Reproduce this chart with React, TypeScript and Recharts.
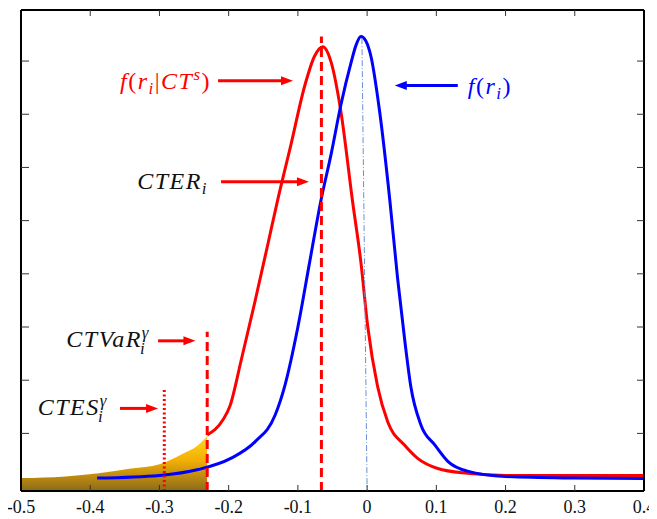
import type { ReactNode } from "react";
import { ComposedChart, Line, Area, XAxis, YAxis, ReferenceLine } from "recharts";

// axis setup
const xTicks = [-0.5, -0.4, -0.3, -0.2, -0.1, 0, 0.1, 0.2, 0.3, 0.4];
const yTicks = [1, 2, 3, 4, 5, 6, 7, 8];
const yMin = -0.083;
const yMax = 8.96;

// unconditional density f(r_i)
const blueR = [-0.39, -0.3, -0.244, -0.197, -0.162, -0.133, -0.119, -0.1, -0.083, -0.067, -0.052, -0.038, -0.023, -0.016, -0.009, -0.002, 0.0055, 0.018, 0.033, 0.044, 0.055, 0.063, 0.078, 0.098, 0.117, 0.145, 0.2, 0.3, 0.4];
const blueDensity = [0.16, 0.21, 0.32, 0.53, 0.84, 1.34, 1.89, 3.0, 4.22, 5.36, 6.25, 7.17, 7.98, 8.3, 8.46, 8.38, 8.09, 7.06, 5.36, 3.92, 2.68, 1.89, 1.15, 0.78, 0.47, 0.29, 0.19, 0.16, 0.15];

// conditional density f(r_i | CT^s)
const redR = [-0.231, -0.208, -0.198, -0.182, -0.162, -0.143, -0.129, -0.11, -0.09, -0.076, -0.064, -0.052, -0.038, -0.021, -0.009, 0.001, 0.015, 0.03, 0.054, 0.073, 0.102, 0.145, 0.2, 0.3, 0.4];
const redDensity = [0.97, 1.26, 1.52, 2.37, 3.48, 4.58, 5.4, 6.43, 7.54, 8.09, 8.27, 7.98, 7.06, 5.36, 4.22, 3.0, 1.89, 1.21, 0.78, 0.53, 0.34, 0.25, 0.21, 0.21, 0.21];

// shaded left tail of the conditional density
const tailR = [-0.5, -0.436, -0.388, -0.341, -0.3, -0.269, -0.244, -0.231];
const tailDensity = [0.16, 0.19, 0.25, 0.34, 0.42, 0.6, 0.78, 0.95];

// risk measures
const cter = -0.066;
const cterTop = 8.46;
const ctvar = -0.231;
const ctvarTop = 2.91;
const ctes = -0.293;
const ctesTop = 1.84;
const modeTop = { r: -0.0075, d: 8.43 };

const toPoints = (xs: number[], ys: number[]) => xs.map((r, i) => ({ r, d: ys[i] }));
const bluePts = toPoints(blueR, blueDensity);
const redPts = toPoints(redR, redDensity);
const tailPts = toPoints(tailR, tailDensity);

const FONT = "'Liberation Serif', 'DejaVu Serif', serif";
const it = { fontStyle: "italic" as const };
const up = { fontStyle: "normal" as const };

const arrowShape = (color: string, label: (x: number, y: number) => ReactNode) => (p: any) => {
  const { x1, y1, x2, y2 } = p;
  const dir = Math.sign(x2 - x1);
  return (
    <g>
      <line x1={x1} y1={y1} x2={x2 - dir * 8} y2={y2} stroke={color} strokeWidth={3} />
      <polygon points={`${x2},${y2} ${x2 - dir * 12},${y2 - 4.5} ${x2 - dir * 12},${y2 + 4.5}`} fill={color} />
      {label(x1, y1)}
    </g>
  );
};

const lblCond = (x: number, y: number) => (
  <text x={x - 7} y={y + 8} textAnchor="end" fill="#ff0000" fontFamily={FONT} fontSize={24} letterSpacing={1.5}>
    <tspan {...it}>f</tspan><tspan {...up}>(</tspan><tspan {...it}>r</tspan>
    <tspan {...it} fontSize={17} dy={5}>i</tspan>
    <tspan {...up} dy={-5}>|</tspan><tspan {...it}>CT</tspan>
    <tspan {...it} fontSize={17} dy={-9}>s</tspan>
    <tspan {...up} dy={9}>)</tspan>
  </text>
);

const lblUncond = (x: number, y: number) => (
  <text x={x + 10} y={y + 8} textAnchor="start" fill="#0000ff" fontFamily={FONT} fontSize={24} letterSpacing={1.5}>
    <tspan {...it}>f</tspan><tspan {...up}>(</tspan><tspan {...it}>r</tspan>
    <tspan {...it} fontSize={17} dy={5}>i</tspan>
    <tspan {...up} dy={-5}>)</tspan>
  </text>
);

const lblCter = (x: number, y: number) => (
  <text x={x - 13} y={y + 7} textAnchor="end" fill="#111" fontFamily={FONT} fontSize={24} letterSpacing={1.5}>
    <tspan {...it}>CTER</tspan>
    <tspan {...it} fontSize={17} dy={5}>i</tspan>
  </text>
);

const lblCtvar = (x: number, y: number) => (
  <text x={x - 8} y={y + 6} textAnchor="end" fill="#111" fontFamily={FONT} fontSize={24} letterSpacing={1.5}>
    <tspan {...it}>CTVaR</tspan>
    <tspan {...it} fontSize={17} dy={-9}>γ</tspan>
    <tspan {...it} fontSize={17} dx={-10} dy={16}>i</tspan>
  </text>
);

const lblCtes = (x: number, y: number) => (
  <text x={x - 12} y={y + 7} textAnchor="end" fill="#111" fontFamily={FONT} fontSize={24} letterSpacing={1.5}>
    <tspan {...it}>CTES</tspan>
    <tspan {...it} fontSize={17} dy={-9}>γ</tspan>
    <tspan {...it} fontSize={17} dx={-10} dy={16}>i</tspan>
  </text>
);

const fmt = (v: number) => (v === 0 ? "0" : String(Number(v.toFixed(1))));

const XTick = (p: any) => (
  <text x={p.x} y={p.y} dy="0.75em" textAnchor="middle" fill="#111" fontFamily={FONT} fontSize={18}>
    {fmt(p.payload.value)}
  </text>
);
const NoLabel = () => <g />;

export default function App() {
  return (
    <ComposedChart width={649} height={511} margin={{ top: 1, right: 12, bottom: 0, left: 12 }}>
      <defs>
        <linearGradient id="tailFill" x1="0" y1="0" x2="0" y2="1">
          <stop offset="0%" stopColor="#ffd81a" />
          <stop offset="45%" stopColor="#f2ae05" />
          <stop offset="100%" stopColor="#8a6a1a" />
        </linearGradient>
      </defs>
      <XAxis
        type="number"
        dataKey="r"
        domain={[-0.5, 0.4]}
        ticks={xTicks}
        interval={0}
        allowDataOverflow
        height={28}
        tickSize={-6}
        tickMargin={14}
        axisLine={{ stroke: "#000", strokeWidth: 2 }}
        tickLine={{ stroke: "#333" }}
        tick={<XTick />}
      />
      <XAxis
        xAxisId="top"
        orientation="top"
        type="number"
        dataKey="r"
        domain={[-0.5, 0.4]}
        ticks={xTicks}
        interval={0}
        allowDataOverflow
        height={1}
        tick={<NoLabel />}
        tickSize={-6}
        axisLine={{ stroke: "#000", strokeWidth: 2 }}
        tickLine={{ stroke: "#333" }}
      />
      <YAxis
        yAxisId="l"
        type="number"
        domain={[yMin, yMax]}
        ticks={yTicks}
        interval={0}
        allowDataOverflow
        width={1}
        tick={<NoLabel />}
        tickSize={-8}
        axisLine={{ stroke: "#000", strokeWidth: 2 }}
        tickLine={{ stroke: "#333" }}
      />
      <YAxis
        yAxisId="r"
        orientation="right"
        type="number"
        domain={[yMin, yMax]}
        ticks={yTicks}
        interval={0}
        allowDataOverflow
        width={1}
        tick={<NoLabel />}
        tickSize={-7}
        axisLine={{ stroke: "#000", strokeWidth: 2 }}
        tickLine={{ stroke: "#333" }}
      />
      <Area
        yAxisId="l"
        data={tailPts}
        dataKey="d"
        type="monotone"
        baseValue="dataMin"
        stroke="none"
        fill="url(#tailFill)"
        fillOpacity={1}
        isAnimationActive={false}
      />
      <Line yAxisId="l" data={redPts} dataKey="d" type="monotone" stroke="#ff0000" strokeWidth={3} dot={false} isAnimationActive={false} />
      <Line yAxisId="l" data={bluePts} dataKey="d" type="monotone" stroke="#0000ff" strokeWidth={3} dot={false} isAnimationActive={false} />

      <ReferenceLine yAxisId="l" segment={[{ x: modeTop.r, y: modeTop.d }, { x: 0, y: yMin }]} stroke="#6b8fd6" strokeWidth={1} strokeDasharray="6 2 1 2" />
      <ReferenceLine yAxisId="l" segment={[{ x: cter, y: yMin }, { x: cter, y: cterTop }]} stroke="#ff0000" strokeWidth={3} strokeDasharray="9 5" />
      <ReferenceLine yAxisId="l" segment={[{ x: ctvar, y: yMin }, { x: ctvar, y: ctvarTop }]} stroke="#ff0000" strokeWidth={3} strokeDasharray="9 5" />
      <ReferenceLine yAxisId="l" segment={[{ x: ctes, y: yMin }, { x: ctes, y: ctesTop }]} stroke="#ff0000" strokeWidth={3} strokeDasharray="2 2.5" />

      <ReferenceLine yAxisId="l" segment={[{ x: -0.2153, y: 7.63 }, { x: -0.1071, y: 7.63 }]} shape={arrowShape("#ff0000", lblCond)} />
      <ReferenceLine yAxisId="l" segment={[{ x: 0.131, y: 7.54 }, { x: 0.04, y: 7.54 }]} shape={arrowShape("#0000ff", lblUncond)} />
      <ReferenceLine yAxisId="l" segment={[{ x: -0.211, y: 5.73 }, { x: -0.084, y: 5.73 }]} shape={arrowShape("#ff0000", lblCter)} />
      <ReferenceLine yAxisId="l" segment={[{ x: -0.302, y: 2.74 }, { x: -0.248, y: 2.74 }]} shape={arrowShape("#ff0000", lblCtvar)} />
      <ReferenceLine yAxisId="l" segment={[{ x: -0.357, y: 1.47 }, { x: -0.302, y: 1.47 }]} shape={arrowShape("#ff0000", lblCtes)} />
    </ComposedChart>
  );
}
